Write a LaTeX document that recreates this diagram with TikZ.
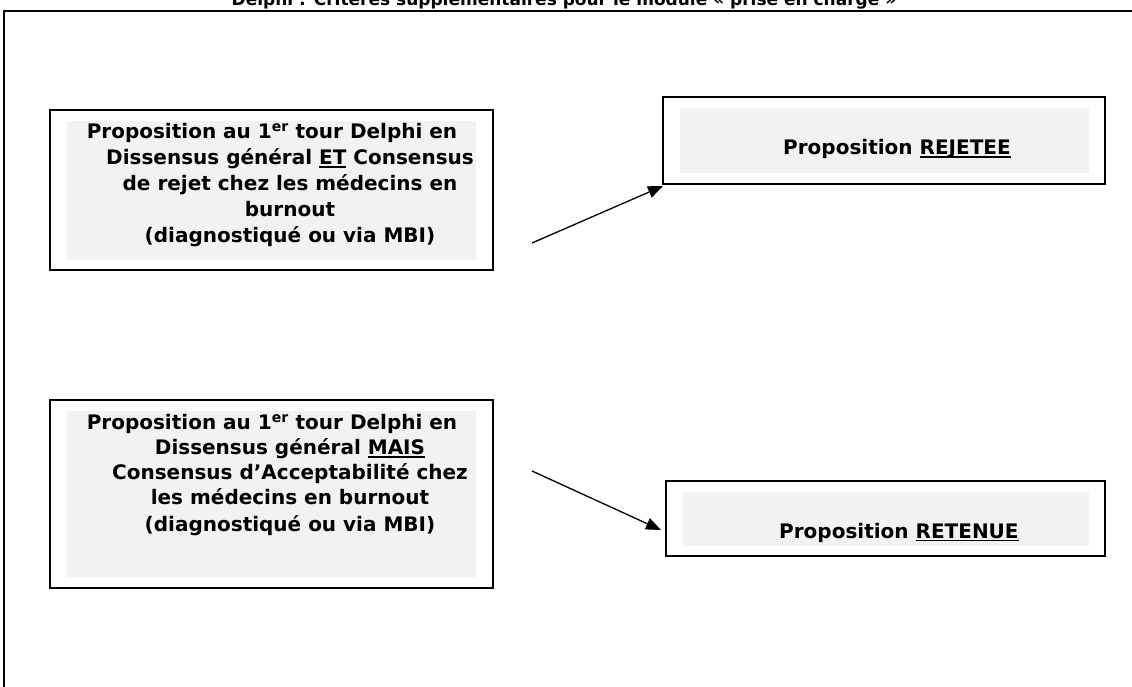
\documentclass[tikz,border=0pt]{standalone}
\usepackage{fontspec}
\setmainfont{DejaVu Sans}
\usetikzlibrary{arrows.meta}
\definecolor{panelgray}{HTML}{F2F2F2}
% thick underline sitting just below the baseline
\newcommand\uln[1]{\setbox0\hbox{#1}\rlap{\rule[-3pt]{\wd0}{1.5pt}}\box0{}}
\begin{document}
\begin{tikzpicture}[x=1pt,y=-1pt,
  frameline/.style={line width=1.8pt},
  boxframe/.style={draw=black, line width=1.7pt, fill=white, inner sep=0pt},
  shade/.style={fill=panelgray},
  txt/.style={font=\bfseries\fontsize{20}{26}\selectfont, align=center, inner sep=0pt},
  label/.style={font=\bfseries\fontsize{20}{22}\selectfont, inner sep=0pt},
  link/.style={line width=1.3pt, -{Triangle[length=15pt,width=12pt]}}]
\useasboundingbox (0,0) rectangle (1132,687);

% page title, partly cut by the top edge
\node[font=\bfseries\fontsize{17}{20}\selectfont, anchor=base, inner sep=0pt] (title) at (564,5.5)
  {Delphi : Critères supplémentaires pour le module « prise en charge »};

% outer frame (top and left sides)
\draw[frameline] (1140,11) -- (4,11) -- (4,695);

% left boxes
\node[boxframe, minimum width=443pt, minimum height=160pt] (rejbox) at (271.5,190) {};
\fill[shade] (67,121) rectangle (476,260);
\node[txt, anchor=north] (rejtxt) at (290,123)
  {Proposition au 1\textsuperscript{er} tour Delphi en\hspace*{36pt}\\
   Dissensus général \uln{ET} Consensus\\
   de rejet chez les médecins en\\
   burnout\\
   (diagnostiqué ou via MBI)};

\node[boxframe, minimum width=443pt, minimum height=188pt] (accbox) at (271.5,494) {};
\fill[shade] (67,411) rectangle (476,577);
\node[txt, anchor=north, font=\bfseries\fontsize{20}{25}\selectfont] (acctxt) at (290,414)
  {Proposition au 1\textsuperscript{er} tour Delphi en\hspace*{36pt}\\
   Dissensus général \uln{MAIS}\hspace*{25pt}\\
   Consensus d’Acceptabilité chez\\
   les médecins en burnout\hspace*{13pt}\\[2pt]
   (diagnostiqué ou via MBI)};

% right boxes
\node[boxframe, minimum width=442pt, minimum height=87pt] (outrej) at (884,140.5) {};
\fill[shade] (680,108) rectangle (1089,173);
\node[label, anchor=base west] (outrejtxt) at (783,155) {Proposition \uln{REJETEE}};

\node[boxframe, minimum width=439pt, minimum height=75pt] (outret) at (885.5,518.5) {};
\fill[shade] (683,492) rectangle (1089,546);
\node[label, anchor=base west] (outrettxt) at (779,538) {Proposition \uln{RETENUE}};

% arrows
\coordinate (a1s) at (532,243);
\coordinate (a1e) at (663,186);
\coordinate (a2s) at (532,471);
\coordinate (a2e) at (661,530);
\draw[link] (a1s) -- (a1e);
\draw[link] (a2s) -- (a2e);
\end{tikzpicture}
\end{document}
